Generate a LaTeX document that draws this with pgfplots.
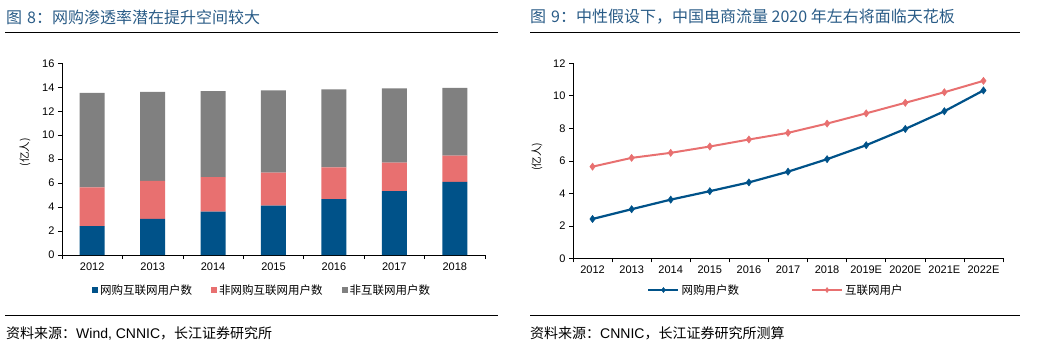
\documentclass[border=0pt]{standalone}
\usepackage{fontspec}
\usepackage{graphicx}
\setmainfont{Liberation Sans}
\newfontfamily\cjk{Noto Sans CJK SC}
\usepackage{pgfplots}
\pgfplotsset{compat=1.18}
\definecolor{titleblue}{RGB}{42,92,135}
\definecolor{barblue}{RGB}{0,82,137}
\definecolor{barpink}{RGB}{232,112,112}
\definecolor{bargrey}{RGB}{128,128,128}
\pgfplotsset{
  common/.style={
    scale only axis,
    axis x line*=bottom, axis y line*=left,
    axis line style={black, line width=0.8pt},
    tick align=outside,
    major x tick style={draw=none},
    minor x tick style={black, line width=0.6pt},
    minor tick length=4pt,
    major tick length=4pt,
    y tick style={black, line width=0.6pt},
    ymin=0,
    tick label style={font=\fontsize{11}{11}\selectfont},
    /pgf/number format/assume math mode=true,
    legend cell align=left,
    clip=false,
  }
}
\begin{document}
\begin{tikzpicture}[x=1pt,y=1pt]
\useasboundingbox (0,0) rectangle (1061,346);
% titles and rules
\node[anchor=west, inner sep=0pt, text=titleblue, font=\cjk\fontsize{16}{16}\selectfont] at (6,329) {图\hspace{5pt}8：网购渗透率潜在提升空间较大};
\node[anchor=west, inner sep=0pt, text=titleblue, font=\cjk\fontsize{16}{16}\selectfont] at (530,329) {图\hspace{5pt}9：中性假设下，中国电商流量 2020 年左右将面临天花板};
\draw[line width=1pt] (5,313.7) -- (498,313.7);
\draw[line width=1pt] (530,313.7) -- (1020,313.7);
\draw[line width=1pt] (5,30.3) -- (498,30.3);
\draw[line width=1pt] (530,30.3) -- (1020,30.3);
\node[anchor=west, inner sep=0pt, font=\fontsize{14}{14}\selectfont] at (6,13) {{\cjk 资料来源：}Wind, CNNIC{\cjk ，长江证券研究所}};
\node[anchor=west, inner sep=0pt, font=\fontsize{14}{14}\selectfont] at (530,13) {{\cjk 资料来源：}CNNIC{\cjk ，长江证券研究所测算}};

\begin{axis}[common,
  at={(62pt,91pt)}, anchor=south west,
  width=423pt, height=191.7pt,
  xmin=-0.5, xmax=6.5, ymax=16,
  ytick={0,2,...,16},
  xtick={0,...,6},
  xticklabels={2012,2013,2014,2015,2016,2017,2018},
  minor xtick={-0.5,0.5,...,6.5},
  ybar stacked, bar width=25pt,
  legend columns=3,
  legend style={draw=none, fill=none, at={(0.473,-0.1826)}, anchor=center,
    font=\cjk\fontsize{11.5}{11.5}\selectfont, inner sep=0pt,
    /tikz/every even column/.append style={column sep=17pt}},
  legend image code/.code={\fill[#1] (0pt,-3pt) rectangle (6pt,3pt);},
]
\addplot[fill=barblue, draw=none] coordinates {(0,2.42) (1,3.02) (2,3.61) (3,4.13) (4,4.67) (5,5.33) (6,6.10)};
\addlegendentry{网购互联网用户数}
\addplot[fill=barpink, draw=none] coordinates {(0,3.22) (1,3.16) (2,2.88) (3,2.75) (4,2.64) (5,2.39) (6,2.19)};
\addlegendentry{非网购互联网用户数}
\addplot[fill=bargrey, draw=none] coordinates {(0,7.90) (1,7.43) (2,7.19) (3,6.87) (4,6.52) (5,6.18) (6,5.66)};
\addlegendentry{非互联网用户数}
\node[anchor=center, inner sep=0pt, font=\cjk\fontsize{10.5}{10.5}\selectfont] at (axis description cs:-0.0875,0.537) {\rotatebox{90}{(亿人)}};
\end{axis}

\begin{axis}[common,
  at={(573pt,87.7pt)}, anchor=south west,
  width=430pt, height=195pt,
  xmin=-0.5, xmax=10.5, ymax=12,
  ytick={0,2,...,12},
  xtick={0,...,10},
  xticklabels={2012,2013,2014,2015,2016,2017,2018,2019E,2020E,2021E,2022E},
  minor xtick={-0.5,0.5,...,10.5},
  legend columns=2,
  legend style={draw=none, fill=none, at={(0.472,-0.1626)}, anchor=center,
    font=\cjk\fontsize{11.5}{11.5}\selectfont, inner sep=0pt,
    /tikz/every even column/.append style={column sep=70pt}},
  legend image code/.code={\draw[#1] (0pt,0pt) -- (30pt,0pt); \draw[#1, mark size=2.5pt, mark repeat=1] plot coordinates {(15pt,0pt)};},
]
\addplot[barblue, line width=2.2pt, mark=diamond*, mark size=3.6pt, mark options={line width=0.5pt}] coordinates {(0,2.42) (1,3.02) (2,3.61) (3,4.13) (4,4.67) (5,5.33) (6,6.10) (7,6.96) (8,7.96) (9,9.05) (10,10.33)};
\addlegendentry{网购用户数}
\addplot[barpink, line width=2pt, mark=diamond*, mark size=3.6pt, mark options={line width=0.5pt}] coordinates {(0,5.64) (1,6.18) (2,6.49) (3,6.88) (4,7.31) (5,7.72) (6,8.29) (7,8.92) (8,9.57) (9,10.22) (10,10.92)};
\addlegendentry{互联网用户}
\node[anchor=center, inner sep=0pt, font=\cjk\fontsize{10.5}{10.5}\selectfont] at (axis description cs:-0.0837,0.52) {\rotatebox{90}{(亿人)}};
\end{axis}
\end{tikzpicture}
\end{document}
